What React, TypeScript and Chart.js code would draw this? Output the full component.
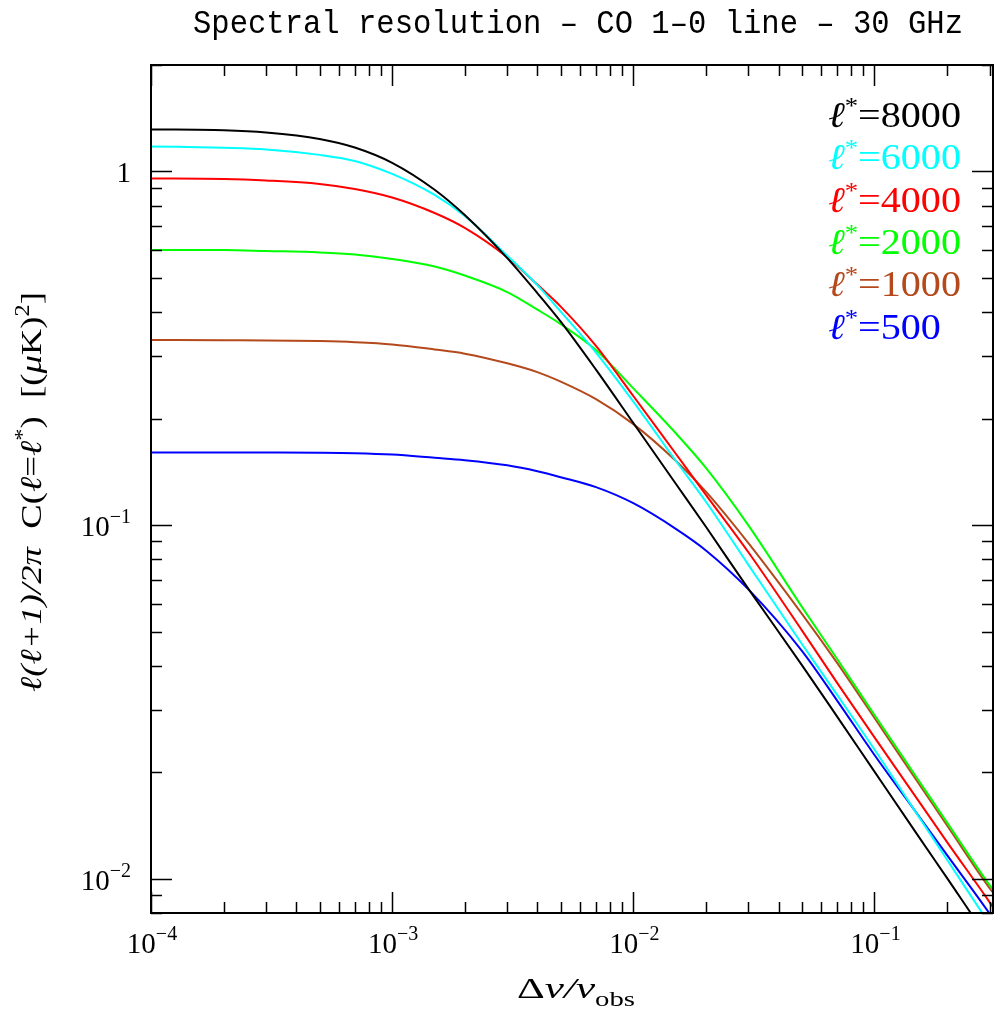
import React, { useEffect, useRef } from "react";
import { Chart, registerables } from "chart.js";
Chart.register(...registerables);

// ---- data ----
const xValues = [1e-4, 2e-4, 3e-4, 5e-4, 7e-4, 1e-3, 1.5e-3, 2e-3, 3e-3, 4e-3, 5e-3, 7e-3, 1e-2, 1.5e-2, 2e-2, 3e-2, 5e-2, 7e-2, 0.1, 0.15, 0.2, 0.3, 0.31];
const l8000 = [1.315, 1.308, 1.289, 1.236, 1.169, 1.058, 0.888, 0.753, 0.569, 0.453, 0.3762, 0.2752, 0.1944, 0.1309, 0.0989, 0.066, 0.0402, 0.02874, 0.02008, 0.01337, 0.01004, 0.0067, 0.0065];
const l6000 = [1.177, 1.166, 1.154, 1.114, 1.071, 0.984, 0.858, 0.748, 0.578, 0.477, 0.4015, 0.3075, 0.2234, 0.152, 0.1164, 0.0772, 0.0461, 0.0331, 0.02319, 0.01524, 0.01132, 0.00744, 0.0072];
const l4000 = [0.955, 0.952, 0.943, 0.922, 0.892, 0.844, 0.763, 0.6925, 0.572, 0.4787, 0.4148, 0.3212, 0.2318, 0.1591, 0.1218, 0.0838, 0.0504, 0.0358, 0.0251, 0.01685, 0.01269, 0.00859, 0.00831];
const l2000 = [0.6, 0.5995, 0.5957, 0.59, 0.582, 0.5655, 0.5384, 0.5077, 0.456, 0.4068, 0.37, 0.3127, 0.2436, 0.1819, 0.1451, 0.0998, 0.05872, 0.0418, 0.02904, 0.01927, 0.01441, 0.00959, 0.00931];
const l1000 = [0.334, 0.3333, 0.3329, 0.3313, 0.329, 0.3243, 0.3138, 0.3053, 0.2867, 0.2707, 0.2544, 0.227, 0.193, 0.152, 0.1243, 0.0889, 0.0561, 0.04076, 0.02848, 0.0189, 0.01414, 0.0094, 0.00913];
const l500 = [0.1605, 0.1605, 0.1604, 0.1602, 0.1597, 0.1583, 0.155, 0.1526, 0.1476, 0.142, 0.1366, 0.128, 0.1153, 0.0976, 0.0848, 0.0658, 0.0441, 0.0319, 0.02238, 0.01528, 0.01166, 0.00797, 0.00771];

const seriesValues = [l8000, l6000, l4000, l2000, l1000, l500];
const seriesLabels = ["8000", "6000", "4000", "2000", "1000", "500"];
const seriesColors = ["#000000", "#00ffff", "#ff0000", "#00ff00", "#b4491c", "#0000ff"];

const xMin = 1e-4;
const xMax = 0.31;
const yMin = 0.008;
const yMax = 2;
const xMajorTicks = [1e-4, 1e-3, 1e-2, 1e-1];
const xTickLabels = [["10", "\u22124"], ["10", "\u22123"], ["10", "\u22122"], ["10", "\u22121"]];
const yMajorTicks = [0.01, 0.1, 1];
const yTickLabels = [["10", "\u22122"], ["10", "\u22121"], ["1", ""]];

const titleText = "Spectral resolution \u2013 CO 1\u20130 line \u2013 30 GHz";

type Seg = { t: string; size: number; dy?: number; italic?: boolean; font?: string };
const FONT = '"Liberation Serif", "DejaVu Serif", serif';
const MONO = '"Liberation Mono", "DejaVu Sans Mono", monospace';

function fontOf(s: Seg) {
  return `${s.italic ? "italic " : ""}${s.size}px ${s.font ?? FONT}`;
}

function segWidth(ctx: CanvasRenderingContext2D, segs: Seg[]) {
  let total = 0;
  for (const s of segs) {
    ctx.font = fontOf(s);
    total += ctx.measureText(s.t).width;
  }
  return total;
}

function drawRich(
  ctx: CanvasRenderingContext2D,
  segs: Seg[],
  x: number,
  y: number,
  opts: { align: "left" | "center" | "right"; sx?: number; width?: number; color?: string; rotate?: number }
) {
  ctx.save();
  const total = segWidth(ctx, segs);
  let sx = opts.sx ?? 1;
  if (opts.width) sx = opts.width / total;
  const w = total * sx;
  ctx.translate(x, y);
  if (opts.rotate) ctx.rotate(opts.rotate);
  const start = opts.align === "left" ? 0 : opts.align === "center" ? -w / 2 : -w;
  ctx.translate(start, 0);
  ctx.scale(sx, 1);
  ctx.textAlign = "left";
  ctx.textBaseline = "alphabetic";
  ctx.fillStyle = opts.color ?? "#000";
  let cx = 0;
  for (const s of segs) {
    ctx.font = fontOf(s);
    ctx.fillText(s.t, cx, s.dy ?? 0);
    cx += ctx.measureText(s.t).width;
  }
  ctx.restore();
}

function minorTicks(min: number, max: number) {
  const out: { v: number; major: boolean }[] = [];
  for (let d = Math.floor(Math.log10(min)); d <= Math.ceil(Math.log10(max)); d++) {
    for (let k = 1; k <= 9; k++) {
      const v = k * Math.pow(10, d);
      if (v >= min * 0.9999 && v <= max * 1.0001) out.push({ v, major: k === 1 });
    }
  }
  return out;
}

const framePlugin = {
  id: "framePlugin",
  afterDraw(chart: any) {
    const ctx: CanvasRenderingContext2D = chart.ctx;
    const { left, right, top, bottom } = chart.chartArea;
    const xs = chart.scales.x;
    const ys = chart.scales.y;
    ctx.save();
    ctx.strokeStyle = "#000";
    ctx.lineWidth = 2;
    ctx.strokeRect(left, top, right - left, bottom - top);
    ctx.lineWidth = 1.5;
    ctx.beginPath();
    for (const t of minorTicks(xMin, xMax)) {
      const px = Math.round(xs.getPixelForValue(t.v)) + 0.5;
      const len = t.major ? 21 : 11;
      ctx.moveTo(px, bottom);
      ctx.lineTo(px, bottom - len);
      ctx.moveTo(px, top);
      ctx.lineTo(px, top + len);
    }
    for (const t of minorTicks(yMin, yMax)) {
      const py = Math.round(ys.getPixelForValue(t.v)) + 0.5;
      const len = t.major ? 21 : 11;
      ctx.moveTo(left, py);
      ctx.lineTo(left + len, py);
      ctx.moveTo(right, py);
      ctx.lineTo(right - len, py);
    }
    ctx.stroke();
    ctx.restore();

    // tick labels
    xMajorTicks.forEach((v, i) => {
      const px = xs.getPixelForValue(v);
      const [b, e] = xTickLabels[i];
      drawRich(ctx, [{ t: b, size: 29 }, { t: e, size: 20, dy: -13 }], px + 1, 953, { align: "center" });
    });
    yMajorTicks.forEach((v, i) => {
      const py = ys.getPixelForValue(v);
      const [b, e] = yTickLabels[i];
      const segs: Seg[] = [{ t: b, size: 29 }];
      if (e) segs.push({ t: e, size: 20, dy: -13 });
      drawRich(ctx, segs, 131, py + 11, { align: "right" });
    });

    // title
    drawRich(ctx, [{ t: titleText, size: 33, font: MONO }], 578, 33, { align: "center", width: 770 });

    // x title
    drawRich(
      ctx,
      [{ t: "\u0394", size: 30 }, { t: "\u03bd/\u03bd", size: 30, italic: true }, { t: "obs", size: 20, dy: 8 }],
      576,
      998,
      { align: "center", width: 118 }
    );

    // y title
    drawRich(
      ctx,
      [
        { t: "\u2113(\u2113+1)/2", size: 30, italic: true },
        { t: "\u03c0", size: 30, italic: true },
        { t: "  C(", size: 30 },
        { t: "\u2113", size: 30, italic: true },
        { t: "=", size: 30 },
        { t: "\u2113", size: 30, italic: true },
        { t: "*", size: 20, dy: -12 },
        { t: ")  [(", size: 30 },
        { t: "\u03bc", size: 30, italic: true },
        { t: "K)", size: 30 },
        { t: "2", size: 20, dy: -12 },
        { t: "]", size: 30 },
      ],
      41,
      492,
      { align: "center", width: 400, rotate: -Math.PI / 2 }
    );

    // legend
    const rowSegs = (lab: string): Seg[] => [
      { t: "\u2113", size: 36, italic: true },
      { t: "*", size: 24, dy: -14 },
      { t: "=" + lab, size: 36 },
    ];
    const w0 = segWidth(ctx, rowSegs(seriesLabels[0]));
    const sx = 133 / w0;
    seriesLabels.forEach((lab, i) => {
      drawRich(ctx, rowSegs(lab), 828, 127 + 42.3 * i, { align: "left", sx, color: seriesColors[i] });
    });
  },
};

export default function App() {
  const ref = useRef<HTMLCanvasElement | null>(null);
  useEffect(() => {
    if (!ref.current) return;
    const chart = new Chart(ref.current, {
      type: "scatter",
      data: {
        datasets: seriesValues.map((vals, i) => ({
          label: "l*=" + seriesLabels[i],
          data: xValues.map((x, j) => ({ x, y: vals[j] })),
          showLine: true,
          borderColor: seriesColors[i],
          backgroundColor: seriesColors[i],
          borderWidth: 2,
          pointRadius: 0,
          cubicInterpolationMode: "monotone",
        })),
      },
      options: {
        animation: false,
        responsive: false,
        devicePixelRatio: 1,
        layout: { padding: { left: 151, right: 2, top: 65, bottom: 99 } },
        plugins: { legend: { display: false }, tooltip: { enabled: false }, title: { display: false } },
        scales: {
          x: { type: "logarithmic", min: xMin, max: xMax, display: false },
          y: { type: "logarithmic", min: yMin, max: yMax, display: false },
        },
      },
      plugins: [framePlugin],
    });
    return () => chart.destroy();
  }, []);
  return (
    <div style={{ position: "absolute", left: 0, top: 0, width: 995, height: 1012, background: "#fff" }}>
      <canvas ref={ref} width={995} height={1012} />
    </div>
  );
}
